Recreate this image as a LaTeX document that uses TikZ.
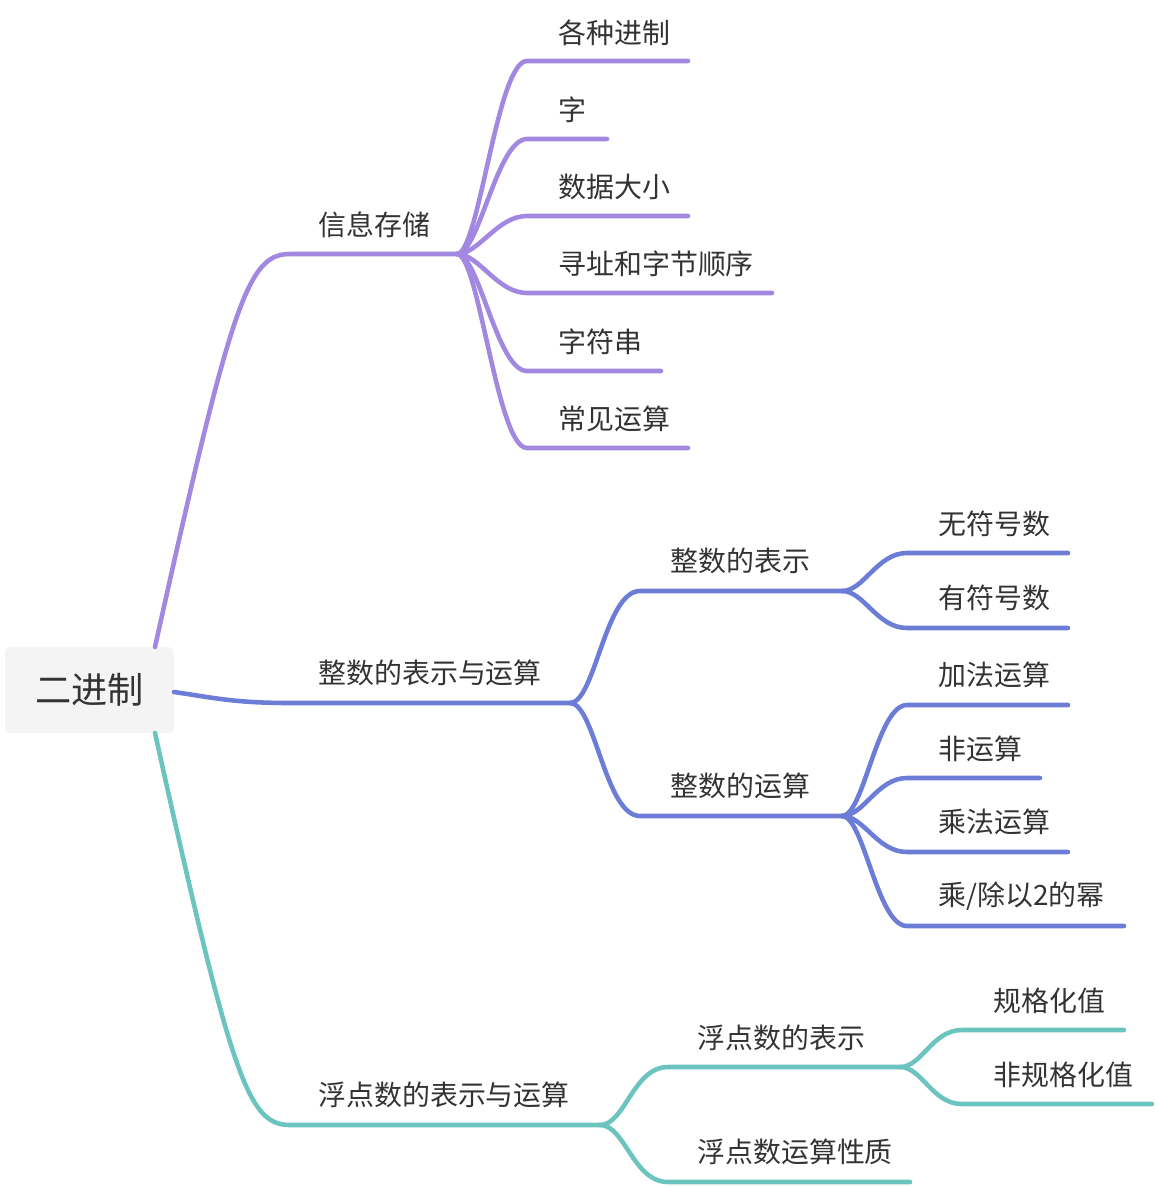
\documentclass[tikz,border=0pt]{standalone}
\usepackage{fontspec}
\newfontfamily\cjk{Noto Sans CJK SC}
\definecolor{cpurple}{HTML}{A288E0}
\definecolor{cblue}{HTML}{6C7DD8}
\definecolor{cteal}{HTML}{6CC4C0}
\definecolor{ctext}{HTML}{333333}
\definecolor{croot}{HTML}{F4F4F4}
\begin{document}
\begin{tikzpicture}[x=0.02cm,y=-0.02cm,
  lbl/.style={anchor=west,inner sep=0pt,text=ctext,font=\cjk\fontsize{15.9pt}{18pt}\selectfont},
  rootbox/.style={fill=croot,rounded corners=3pt,text=ctext,minimum width=3.38cm,minimum height=1.72cm,inner sep=0pt,font=\cjk\fontsize{20.6pt}{24pt}\selectfont},
  br/.style={line width=2.6pt,line cap=round,line join=round},
  pbr/.style={br,draw=cpurple},
  bbr/.style={br,draw=cblue},
  tbr/.style={br,draw=cteal}]
\useasboundingbox (0,0) rectangle (1154,1186);

% root
\node[rootbox] (root) at (89.5,690) {二进制};

% ---------- purple branch ----------
\coordinate (pA) at (155,647);
\coordinate (j1) at (457,254);
\node[lbl] (info) at (318,225) {信息存储};
\draw[pbr] (pA) .. controls (232,300) and (248,254) .. (290,254) -- (j1);

\coordinate (a1s) at (527,61);  \coordinate (a1e) at (688,61);
\coordinate (a2s) at (527,139); \coordinate (a2e) at (607,139);
\coordinate (a3s) at (527,216); \coordinate (a3e) at (688,216);
\coordinate (a4s) at (527,293); \coordinate (a4e) at (772,293);
\coordinate (a5s) at (527,371); \coordinate (a5e) at (661,371);
\coordinate (a6s) at (527,448); \coordinate (a6e) at (688,448);
\node[lbl] (t1) at (558,33) {各种进制};
\node[lbl] (t2) at (558,110) {字};
\node[lbl] (t3) at (558,187) {数据大小};
\node[lbl] (t4) at (558,264) {寻址和字节顺序};
\node[lbl] (t5) at (558,342) {字符串};
\node[lbl] (t6) at (558,419) {常见运算};
\foreach \i in {1,...,6}{
  \draw[pbr] (j1) .. controls +(22,0) and +(-30,0) .. (a\i s) -- (a\i e);
}

% ---------- blue branch ----------
\coordinate (bA) at (174,692);
\coordinate (j2) at (570,703);
\node[lbl] (intr) at (318,673) {整数的表示与运算};
\draw[bbr] (bA) .. controls (215,698) and (235,703) .. (290,703) -- (j2);

\coordinate (b1s) at (640,591); \coordinate (j21) at (842,591);
\coordinate (b2s) at (640,816); \coordinate (j22) at (842,816);
\node[lbl] (irep) at (670,561) {整数的表示};
\node[lbl] (iops) at (670,786) {整数的运算};
\draw[bbr] (j2) .. controls +(25,0) and +(-35,0) .. (b1s) -- (j21);
\draw[bbr] (j2) .. controls +(25,0) and +(-35,0) .. (b2s) -- (j22);

\coordinate (c1s) at (907,553); \coordinate (c1e) at (1068,553);
\coordinate (c2s) at (907,628); \coordinate (c2e) at (1068,628);
\node[lbl] (u1) at (938,524) {无符号数};
\node[lbl] (u2) at (938,598) {有符号数};
\foreach \i in {1,2}{
  \draw[bbr] (j21) .. controls +(22,0) and +(-30,0) .. (c\i s) -- (c\i e);
}

\coordinate (d1s) at (907,705); \coordinate (d1e) at (1068,705);
\coordinate (d2s) at (907,778); \coordinate (d2e) at (1040,778);
\coordinate (d3s) at (907,852); \coordinate (d3e) at (1068,852);
\coordinate (d4s) at (907,926); \coordinate (d4e) at (1124,926);
\node[lbl] (v1) at (938,675) {加法运算};
\node[lbl] (v2) at (938,749) {非运算};
\node[lbl] (v3) at (938,822) {乘法运算};
\node[lbl] (v4) at (938,896) {乘/除以2的幂};
\foreach \i in {1,...,4}{
  \draw[bbr] (j22) .. controls +(22,0) and +(-30,0) .. (d\i s) -- (d\i e);
}

% ---------- teal branch ----------
\coordinate (tA) at (155,733);
\coordinate (j3) at (600,1125);
\node[lbl] (flt) at (318,1095) {浮点数的表示与运算};
\draw[tbr] (tA) .. controls (232,1080) and (248,1125) .. (290,1125) -- (j3);

\coordinate (e1s) at (668,1067); \coordinate (j31) at (900,1067);
\coordinate (e2s) at (668,1182); \coordinate (e2e) at (910,1182);
\node[lbl] (frep) at (697,1038) {浮点数的表示};
\node[lbl] (fops) at (697,1152) {浮点数运算性质};
\draw[tbr] (j3) .. controls +(25,0) and +(-35,0) .. (e1s) -- (j31);
\draw[tbr] (j3) .. controls +(25,0) and +(-35,0) .. (e2s) -- (e2e);

\coordinate (f1s) at (962,1030); \coordinate (f1e) at (1124,1030);
\coordinate (f2s) at (962,1104); \coordinate (f2e) at (1152,1104);
\node[lbl] (w1) at (993,1001) {规格化值};
\node[lbl] (w2) at (993,1075) {非规格化值};
\foreach \i in {1,2}{
  \draw[tbr] (j31) .. controls +(22,0) and +(-30,0) .. (f\i s) -- (f\i e);
}
\end{tikzpicture}
\end{document}
